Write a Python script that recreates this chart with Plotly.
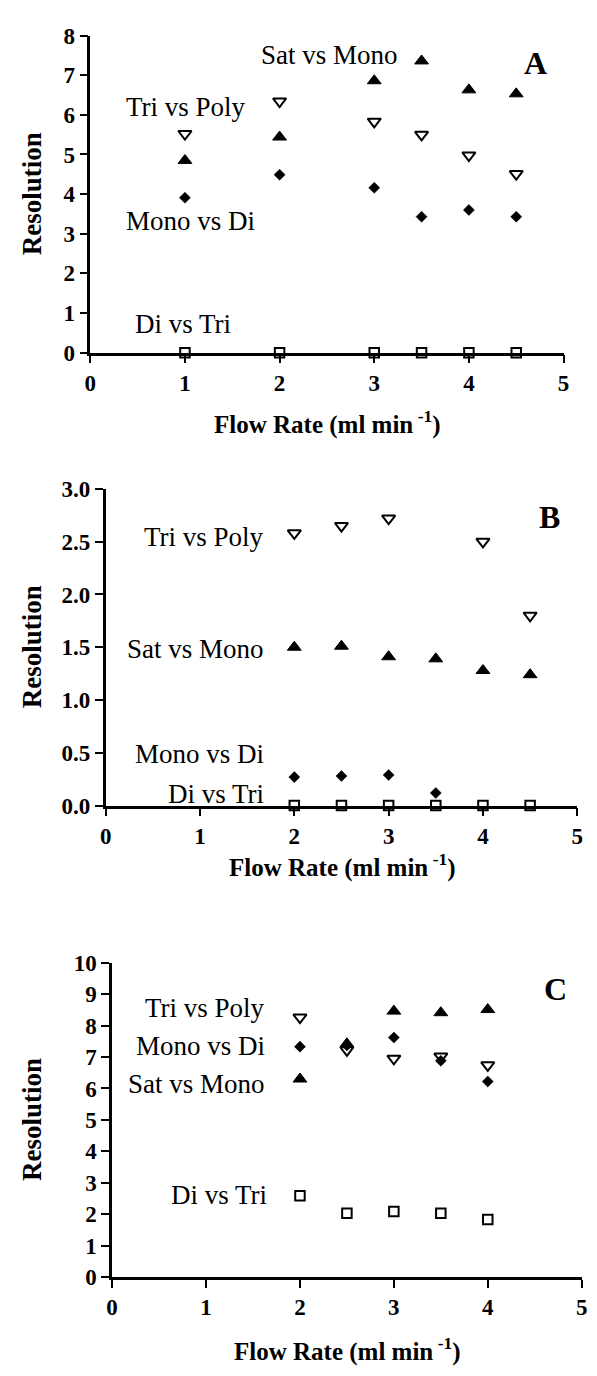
import plotly.graph_objects as go

# ---- Panel A: resolution vs flow rate ----
flow_A = [1, 2, 3, 3.5, 4, 4.5]
tri_poly_A = [5.52, 6.34, 5.83, 5.50, 4.98, 4.51]
sat_mono_A = [4.85, 5.44, 6.86, 7.36, 6.63, 6.53]
mono_di_A = [3.91, 4.49, 4.16, 3.43, 3.60, 3.43]
di_tri_A = [0, 0, 0, 0, 0, 0]

# ---- Panel B ----
flow_B_tp = [2, 2.5, 3, 4, 4.5]
tri_poly_B = [2.58, 2.65, 2.72, 2.50, 1.80]
flow_B = [2, 2.5, 3, 3.5, 4, 4.5]
sat_mono_B = [1.50, 1.51, 1.41, 1.39, 1.28, 1.24]
flow_B_md = [2, 2.5, 3, 3.5]
mono_di_B = [0.27, 0.28, 0.29, 0.12]
di_tri_B = [0, 0, 0, 0, 0, 0]

# ---- Panel C ----
flow_C = [2, 2.5, 3, 3.5, 4]
tri_poly_C = [8.26, 7.22, 6.95, 7.02, 6.74]
mono_di_C = [7.33, 7.37, 7.62, 6.88, 6.22]
sat_mono_C = [6.30, 7.42, 8.46, 8.41, 8.51]
di_tri_C = [2.59, 2.03, 2.09, 2.03, 1.83]

SERIF = "Liberation Serif"
W, H = 597, 1376

marker_styles = {
    "tri_poly": dict(symbol="triangle-down-open", size=11.5, color="black", line=dict(width=2, color="black")),
    "sat_mono": dict(symbol="triangle-up", size=12, color="black", line=dict(width=1, color="black")),
    "mono_di": dict(symbol="diamond", size=8.5, color="black", line=dict(width=0.5, color="black")),
    "di_tri": dict(symbol="square-open", size=9.5, color="black", line=dict(width=2, color="black")),
}

fig = go.Figure()


def add_series(x, y, key, ax):
    fig.add_trace(go.Scatter(
        x=x, y=y, mode="markers", marker=marker_styles[key],
        xaxis="x" + ax, yaxis="y" + ax, cliponaxis=False,
        hoverinfo="x+y", showlegend=False,
    ))


add_series(flow_A, mono_di_A, "mono_di", "")
add_series(flow_A, sat_mono_A, "sat_mono", "")
add_series(flow_A, tri_poly_A, "tri_poly", "")
add_series(flow_A, di_tri_A, "di_tri", "")

add_series(flow_B_md, mono_di_B, "mono_di", "2")
add_series(flow_B, sat_mono_B, "sat_mono", "2")
add_series(flow_B_tp, tri_poly_B, "tri_poly", "2")
add_series(flow_B, di_tri_B, "di_tri", "2")

add_series(flow_C, mono_di_C, "mono_di", "3")
add_series(flow_C, sat_mono_C, "sat_mono", "3")
add_series(flow_C, tri_poly_C, "tri_poly", "3")
add_series(flow_C, di_tri_C, "di_tri", "3")


def px_x(p):
    return p / W


def px_y(p):
    return 1 - p / H


tick_font = dict(family=SERIF, size=23, color="black", weight="bold")


def xaxis_cfg(left, right, anchor):
    return dict(
        domain=[px_x(left), px_x(right)], anchor=anchor, range=[0, 5],
        tickmode="array", tickvals=[0, 1, 2, 3, 4, 5], ticktext=["0", "1", "2", "3", "4", "5"],
        showline=True, linecolor="black", linewidth=2.5,
        ticks="outside", ticklen=8, tickwidth=2, tickcolor="black",
        tickfont=tick_font, showgrid=False, zeroline=False, fixedrange=True,
    )


def yaxis_cfg(top, bottom, anchor, rng, vals, text):
    return dict(
        domain=[px_y(bottom), px_y(top)], anchor=anchor, range=rng,
        tickmode="array", tickvals=vals, ticktext=text,
        showline=True, linecolor="black", linewidth=2.5,
        ticks="outside", ticklen=8, tickwidth=2, tickcolor="black",
        tickfont=tick_font, showgrid=False, zeroline=False, fixedrange=True,
    )


yA = list(range(0, 9))
yB = [0, 0.5, 1.0, 1.5, 2.0, 2.5, 3.0]
yC = list(range(0, 11))

fig.update_layout(
    width=W, height=H,
    margin=dict(l=0, r=0, t=0, b=0),
    paper_bgcolor="white", plot_bgcolor="white",
    showlegend=False,
    xaxis=xaxis_cfg(86, 569, "y"),
    yaxis=yaxis_cfg(24, 347, "x", [0, 8], yA, [str(v) for v in yA]),
    xaxis2=xaxis_cfg(101.7, 583, "y2"),
    yaxis2=yaxis_cfg(485.7, 808.3, "x2", [0, 3], yB, [f"{v:.1f}" for v in yB]),
    xaxis3=xaxis_cfg(108.3, 587.5, "y3"),
    yaxis3=yaxis_cfg(968.3, 1288.5, "x3", [0, 10], yC, [str(v) for v in yC]),
)

label_font = dict(family=SERIF, size=27, color="black")
letter_font = dict(family=SERIF, size=32, color="black", weight="bold")
title_font = dict(family=SERIF, size=25, color="black", weight="bold")
ytitle_font = dict(family=SERIF, size=27, color="black", weight="bold")

annotations = []


def series_label(text, x, y, ax, anchor):
    annotations.append(dict(
        text=text, x=x, y=y, xref="x" + ax, yref="y" + ax,
        xanchor=anchor, yanchor="middle", showarrow=False, font=label_font,
    ))


# Panel A labels
series_label("Sat vs Mono", 2.53, 7.52, "", "center")
series_label("Tri vs Poly", 0.36, 6.2, "", "left")
series_label("Mono vs Di", 0.36, 3.33, "", "left")
series_label("Di vs Tri", 0.45, 0.72, "", "left")
# Panel B labels
series_label("Tri vs Poly", 1.70, 2.54, "2", "right")
series_label("Sat vs Mono", 1.70, 1.48, "2", "right")
series_label("Mono vs Di", 1.70, 0.49, "2", "right")
series_label("Di vs Tri", 1.70, 0.11, "2", "right")
# Panel C labels
series_label("Tri vs Poly", 1.65, 8.55, "3", "right")
series_label("Mono vs Di", 1.65, 7.35, "3", "right")
series_label("Sat vs Mono", 1.65, 6.14, "3", "right")
series_label("Di vs Tri", 1.67, 2.60, "3", "right")

# Panel letters
for letter, x, y, ax in [("A", 4.70, 7.32, ""), ("B", 4.71, 2.73, "2"), ("C", 4.72, 9.17, "3")]:
    annotations.append(dict(
        text=letter, x=x, y=y, xref="x" + ax, yref="y" + ax,
        xanchor="center", yanchor="middle", showarrow=False, font=letter_font,
    ))

# Axis titles
x_title = "Flow Rate (ml min<sup> -1</sup>)"
for cx, cy in [(328, 418), (343, 869), (348, 1362)]:
    annotations.append(dict(
        text=x_title, x=px_x(cx), y=px_y(cy), xref="paper", yref="paper",
        xanchor="center", yanchor="middle", showarrow=False, font=title_font,
    ))
for cy in [185.5, 647, 1128.4]:
    annotations.append(dict(
        text="Resolution", x=px_x(26.6), y=px_y(cy), xref="paper", yref="paper",
        xanchor="center", yanchor="middle", textangle=-90, showarrow=False, font=ytitle_font,
    ))

fig.update_layout(annotations=annotations)

fig.write_html("out.html", config={"displayModeBar": False})
